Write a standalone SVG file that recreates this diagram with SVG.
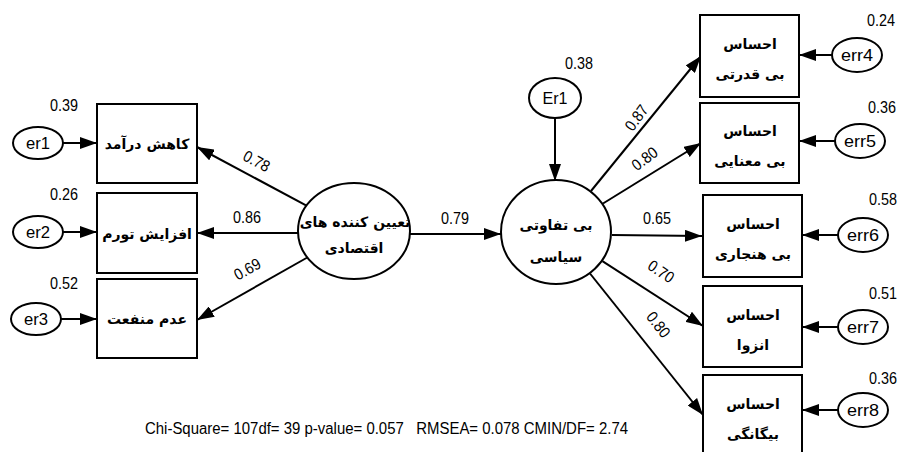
<svg xmlns="http://www.w3.org/2000/svg" width="902" height="452" viewBox="0 0 902 452">
<style>
.box{fill:#fff;stroke:#000;stroke-width:2}
.ell{fill:#fff;stroke:#000;stroke-width:2}
.ln{stroke:#000;stroke-width:2;fill:none}
.fa{font-family:"DejaVu Sans",sans-serif;font-weight:bold;font-size:14px;text-anchor:middle;fill:#000}
.num{font-family:"Liberation Sans",Arial,sans-serif;font-size:16px;fill:#000}
.lab{font-family:"Liberation Sans",Arial,sans-serif;font-size:16px;text-anchor:middle;fill:#000}
</style>
<defs>
<marker id="ah" markerUnits="userSpaceOnUse" markerWidth="17" markerHeight="12" refX="17" refY="6" orient="auto">
<path d="M0,0 L17,6 L0,12 z" fill="#000"/>
</marker>
</defs>
<rect width="902" height="452" fill="#fff"/>
<g id="connectors">
<line class="ln" x1="63" y1="143" x2="97" y2="143" marker-end="url(#ah)"/>
<line class="ln" x1="63" y1="232" x2="97" y2="232" marker-end="url(#ah)"/>
<line class="ln" x1="61" y1="319" x2="97" y2="319" marker-end="url(#ah)"/>
<line class="ln" x1="306.5" y1="205.6" x2="197" y2="147" marker-end="url(#ah)"/>
<line class="ln" x1="298" y1="233" x2="197" y2="233" marker-end="url(#ah)"/>
<line class="ln" x1="307.3" y1="257.5" x2="197" y2="320" marker-end="url(#ah)"/>
<line class="ln" x1="410" y1="234" x2="501" y2="234" marker-end="url(#ah)"/>
<line class="ln" x1="555" y1="118" x2="555" y2="181" marker-end="url(#ah)"/>
<line class="ln" x1="591" y1="191" x2="701" y2="56" marker-end="url(#ah)"/>
<line class="ln" x1="603" y1="203.5" x2="701" y2="143" marker-end="url(#ah)"/>
<line class="ln" x1="612" y1="235" x2="702" y2="236" marker-end="url(#ah)"/>
<line class="ln" x1="602.4" y1="261.2" x2="703" y2="326" marker-end="url(#ah)"/>
<line class="ln" x1="590" y1="273.5" x2="703" y2="415" marker-end="url(#ah)"/>
<line class="ln" x1="832" y1="55" x2="799" y2="55" marker-end="url(#ah)"/>
<line class="ln" x1="835" y1="141" x2="799" y2="141" marker-end="url(#ah)"/>
<line class="ln" x1="838" y1="235" x2="802" y2="235" marker-end="url(#ah)"/>
<line class="ln" x1="838" y1="327" x2="802" y2="327" marker-end="url(#ah)"/>
<line class="ln" x1="838" y1="410" x2="802" y2="410" marker-end="url(#ah)"/>
<text class="num" text-anchor="middle" textLength="28" lengthAdjust="spacingAndGlyphs" transform="translate(254,166) rotate(28)">0.78</text>
<text class="num" text-anchor="middle" textLength="28" lengthAdjust="spacingAndGlyphs" x="247" y="223">0.86</text>
<text class="num" text-anchor="middle" textLength="28" lengthAdjust="spacingAndGlyphs" transform="translate(250,274) rotate(-29)">0.69</text>
<text class="num" text-anchor="middle" textLength="28" lengthAdjust="spacingAndGlyphs" x="455" y="224">0.79</text>
<text class="num" text-anchor="middle" textLength="28" lengthAdjust="spacingAndGlyphs" transform="translate(641,121) rotate(-54)">0.87</text>
<text class="num" text-anchor="middle" textLength="28" lengthAdjust="spacingAndGlyphs" transform="translate(648,163) rotate(-37)">0.80</text>
<text class="num" text-anchor="middle" textLength="28" lengthAdjust="spacingAndGlyphs" x="657" y="224">0.65</text>
<text class="num" text-anchor="middle" textLength="28" lengthAdjust="spacingAndGlyphs" transform="translate(658,276) rotate(34)">0.70</text>
<text class="num" text-anchor="middle" textLength="28" lengthAdjust="spacingAndGlyphs" transform="translate(654,328) rotate(52)">0.80</text>
</g>
<g id="er1"><ellipse class="ell" cx="38" cy="143" rx="25" ry="16"/><text class="lab" x="38" y="149" textLength="24" lengthAdjust="spacingAndGlyphs">er1</text><text class="num" x="50" y="111" textLength="28" lengthAdjust="spacingAndGlyphs">0.39</text></g>
<g id="er2"><ellipse class="ell" cx="38" cy="232" rx="25" ry="16"/><text class="lab" x="38" y="238" textLength="24" lengthAdjust="spacingAndGlyphs">er2</text><text class="num" x="50" y="200" textLength="28" lengthAdjust="spacingAndGlyphs">0.26</text></g>
<g id="er3"><ellipse class="ell" cx="36" cy="319" rx="25" ry="16"/><text class="lab" x="36" y="325" textLength="24" lengthAdjust="spacingAndGlyphs">er3</text><text class="num" x="50" y="289" textLength="28" lengthAdjust="spacingAndGlyphs">0.52</text></g>
<g id="box1"><rect class="box" x="97" y="104" width="100" height="79"/><text class="fa" x="147" y="149">کاهش درآمد</text></g>
<g id="box2"><rect class="box" x="97" y="193" width="100" height="80"/><text class="fa" x="147" y="239">افزایش تورم</text></g>
<g id="box3"><rect class="box" x="97" y="279" width="100" height="79"/><text class="fa" x="147" y="324">عدم منفعت</text></g>
<g id="latent1"><ellipse class="ell" cx="354" cy="231" rx="56" ry="48"/><text class="fa" x="355" y="227">تعیین کننده های</text><text class="fa" x="354" y="253">اقتصادی</text></g>
<g id="latent2"><ellipse class="ell" cx="556" cy="232" rx="55" ry="52"/><text class="fa" x="556" y="230" font-size="16">بی تفاوتی</text><text class="fa" x="556" y="262" font-size="16">سیاسی</text></g>
<g id="Er1"><ellipse class="ell" cx="555" cy="98" rx="26" ry="20"/><text class="lab" x="555" y="104" textLength="25" lengthAdjust="spacingAndGlyphs">Er1</text><text class="num" x="565" y="69" textLength="28" lengthAdjust="spacingAndGlyphs">0.38</text></g>
<g id="box4"><rect class="box" x="700" y="15" width="99" height="82"/><text class="fa" x="750" y="49">احساس</text><text class="fa" x="750" y="79">بی قدرتی</text></g>
<g id="box5"><rect class="box" x="700" y="103" width="99" height="80"/><text class="fa" x="750" y="136">احساس</text><text class="fa" x="750" y="166">بی معنایی</text></g>
<g id="box6"><rect class="box" x="703" y="195" width="99" height="82"/><text class="fa" x="753" y="229">احساس</text><text class="fa" x="753" y="259">بی هنجاری</text></g>
<g id="box7"><rect class="box" x="703" y="286" width="99" height="81"/><text class="fa" x="753" y="320">احساس</text><text class="fa" x="753" y="350">انزوا</text></g>
<g id="box8"><rect class="box" x="703" y="375" width="99" height="82"/><text class="fa" x="753" y="409">احساس</text><text class="fa" x="753" y="439">بیگانگی</text></g>
<g id="err4"><ellipse class="ell" cx="857" cy="55" rx="25" ry="17"/><text class="lab" x="857" y="61" textLength="32" lengthAdjust="spacingAndGlyphs">err4</text><text class="num" x="867" y="26" textLength="28" lengthAdjust="spacingAndGlyphs">0.24</text></g>
<g id="err5"><ellipse class="ell" cx="860" cy="141" rx="25" ry="17"/><text class="lab" x="860" y="147" textLength="32" lengthAdjust="spacingAndGlyphs">err5</text><text class="num" x="868" y="113" textLength="28" lengthAdjust="spacingAndGlyphs">0.36</text></g>
<g id="err6"><ellipse class="ell" cx="863" cy="235" rx="25" ry="17"/><text class="lab" x="863" y="241" textLength="32" lengthAdjust="spacingAndGlyphs">err6</text><text class="num" x="869" y="205" textLength="28" lengthAdjust="spacingAndGlyphs">0.58</text></g>
<g id="err7"><ellipse class="ell" cx="863" cy="327" rx="25" ry="17"/><text class="lab" x="863" y="333" textLength="32" lengthAdjust="spacingAndGlyphs">err7</text><text class="num" x="869" y="299" textLength="28" lengthAdjust="spacingAndGlyphs">0.51</text></g>
<g id="err8"><ellipse class="ell" cx="863" cy="410" rx="25" ry="17"/><text class="lab" x="863" y="416" textLength="32" lengthAdjust="spacingAndGlyphs">err8</text><text class="num" x="869" y="384" textLength="28" lengthAdjust="spacingAndGlyphs">0.36</text></g>
<text class="num" x="145" y="434" font-size="18" textLength="483" lengthAdjust="spacingAndGlyphs" xml:space="preserve">Chi-Square= 107df= 39 p-value= 0.057   RMSEA= 0.078 CMIN/DF= 2.74</text>
</svg>
